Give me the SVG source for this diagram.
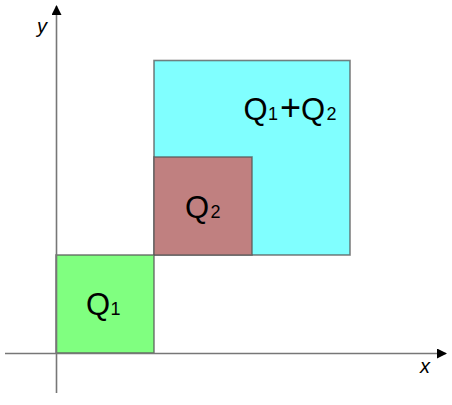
<svg xmlns="http://www.w3.org/2000/svg" width="452" height="405" viewBox="0 0 452 405">
<style>
.box{stroke:#555;stroke-opacity:0.75;stroke-width:1.6}
.lbl{font-family:"Liberation Sans",Arial,sans-serif;font-size:31px;fill:#000}
.sub{font-size:18px}
.plus{font-size:36px}
.ax{font-family:"Liberation Sans",Arial,sans-serif;font-size:20px;font-style:italic;fill:#000}
.axis{stroke:#777;stroke-width:1.6;fill:none}
</style>
<defs>
<marker id="arr" markerWidth="10" markerHeight="10" refX="9" refY="5" orient="auto" markerUnits="userSpaceOnUse">
<path d="M0,0 L10,5 L0,10 Z" fill="#000"/>
</marker>
</defs>
<g id="sum">
<rect class="box" x="154" y="60.5" width="196" height="194.5" fill="#80ffff"/>
<text class="lbl" y="120"><tspan x="243.5">Q</tspan><tspan class="sub" x="268">1</tspan><tspan class="plus" x="280">+</tspan><tspan x="301">Q</tspan><tspan class="sub" x="326.5">2</tspan></text>
</g>
<g id="q2">
<rect class="box" x="154" y="157" width="98" height="98" fill="#c08080"/>
<text class="lbl" y="218"><tspan x="185">Q</tspan><tspan class="sub" x="210.5">2</tspan></text>
</g>
<g id="q1">
<rect class="box" x="56" y="255" width="98" height="98" fill="#80ff80"/>
<text class="lbl" y="315"><tspan x="86">Q</tspan><tspan class="sub" x="110.5">1</tspan></text>
</g>
<g id="connectors">
<line class="axis" x1="56.5" y1="393" x2="56.5" y2="6" marker-end="url(#arr)"/>
<line class="axis" x1="5" y1="353.5" x2="446" y2="353.5" marker-end="url(#arr)"/>
</g>
<text class="ax" x="37" y="33">y</text>
<text class="ax" x="420" y="373">x</text>
</svg>
